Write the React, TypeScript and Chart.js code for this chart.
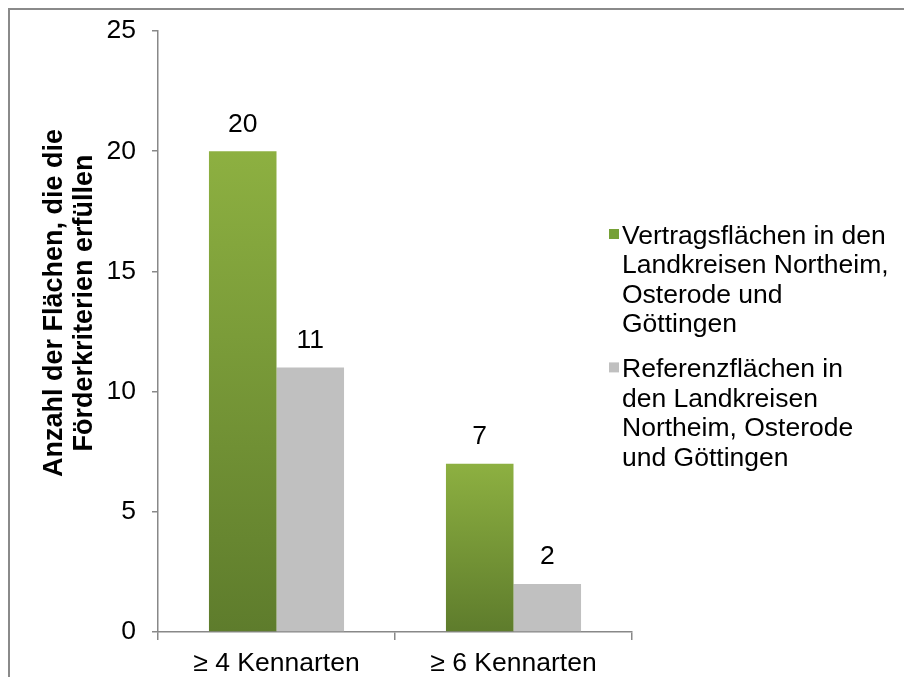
import React, { useEffect, useRef } from 'react';
import { Chart, registerables } from 'chart.js';

Chart.register(...registerables);

// ---- data ----
const categories = ['≥ 4 Kennarten', '≥ 6 Kennarten'];
const vertragsflaechen = [20, 7];
const referenzflaechen = [11, 2];
const seriesNames = [
  'Vertragsflächen in den Landkreisen Northeim, Osterode und Göttingen',
  'Referenzflächen in den Landkreisen Northeim, Osterode und Göttingen',
];
const legendLines = [
  ['Vertragsflächen in den', 'Landkreisen Northeim,', 'Osterode und', 'Göttingen'],
  ['Referenzflächen in', 'den Landkreisen', 'Northeim, Osterode', 'und Göttingen'],
];
const yTitleLines = ['Anzahl der Flächen, die die', 'Förderkriterien erfüllen'];
const yMin = 0;
const yMax = 25;
const yStep = 5;

// ---- styles ----
const FONT = '"Liberation Sans", Arial, sans-serif';
const FS = 26.5;
const GREEN_TOP = '#8db041';
const GREEN_BOTTOM = '#5e7c2c';
const GREEN_SWATCH = '#76a136';
const GREY = '#c0c0c0';
const AXIS = '#888888';

function greenGradient(ctx: any) {
  const chart = ctx.chart;
  if (!chart.chartArea || ctx.type !== 'data') return GREEN_SWATCH;
  const y = chart.scales.y;
  const top = y.getPixelForValue(ctx.raw as number);
  const bot = y.getPixelForValue(0);
  if (!isFinite(top) || !isFinite(bot) || top === bot) return GREEN_SWATCH;
  const g = chart.ctx.createLinearGradient(0, top, 0, bot);
  g.addColorStop(0, GREEN_TOP);
  g.addColorStop(1, GREEN_BOTTOM);
  return g;
}

const decorPlugin = {
  id: 'decor',
  afterDatasetsDraw(chart: any) {
    const ctx = chart.ctx;
    ctx.save();
    ctx.fillStyle = '#000';
    ctx.font = `${FS}px ${FONT}`;
    ctx.textAlign = 'center';
    ctx.textBaseline = 'middle';
    chart.data.datasets.forEach((ds: any, di: number) => {
      const meta = chart.getDatasetMeta(di);
      meta.data.forEach((el: any, i: number) => {
        ctx.fillText(String(ds.data[i]), el.x, el.y - 27);
      });
    });
    ctx.restore();
  },
  afterDraw(chart: any) {
    const ctx = chart.ctx;
    ctx.save();
    // y-axis title
    ctx.fillStyle = '#000';
    ctx.font = `bold 27px ${FONT}`;
    ctx.textAlign = 'center';
    ctx.textBaseline = 'middle';
    const cy = 293;
    yTitleLines.forEach((line, i) => {
      ctx.save();
      ctx.translate(45 + i * 30, cy);
      ctx.rotate(-Math.PI / 2);
      ctx.fillText(line, 0, 0);
      ctx.restore();
    });
    // legend
    const swatches = [GREEN_SWATCH, GREY];
    const lineH = 29.6;
    const entryGap = 15;
    let baseline = 233.5;
    ctx.font = `${FS}px ${FONT}`;
    ctx.textAlign = 'left';
    ctx.textBaseline = 'alphabetic';
    legendLines.forEach((lines, k) => {
      ctx.fillStyle = swatches[k];
      ctx.fillRect(599, baseline - 14.5, 10, 10);
      ctx.fillStyle = '#000';
      lines.forEach((line, j) => {
        ctx.fillText(line, 612, baseline + j * lineH);
      });
      baseline += lines.length * lineH + entryGap;
    });
    ctx.restore();
  },
};

export default function App() {
  const ref = useRef<HTMLCanvasElement>(null);
  useEffect(() => {
    if (!ref.current) return;
    const chart = new Chart(ref.current, {
      type: 'bar',
      data: {
        labels: categories,
        datasets: [
          {
            label: seriesNames[0],
            data: vertragsflaechen,
            backgroundColor: greenGradient,
            borderWidth: 0,
            categoryPercentage: 0.57,
            barPercentage: 1,
          },
          {
            label: seriesNames[1],
            data: referenzflaechen,
            backgroundColor: GREY,
            borderWidth: 0,
            categoryPercentage: 0.57,
            barPercentage: 1,
          },
        ],
      },
      options: {
        animation: false,
        responsive: false,
        devicePixelRatio: 1,
        layout: { padding: { top: 21, right: 272, left: 0, bottom: 0 } },
        plugins: {
          legend: { display: false },
          tooltip: { enabled: false },
          title: { display: false },
        },
        scales: {
          x: {
            grid: {
              display: true,
              drawOnChartArea: false,
              drawTicks: true,
              tickLength: 8,
              color: AXIS,
              lineWidth: 1.5,
              offset: true,
            },
            border: { display: true, color: AXIS, width: 1.5 },
            ticks: { font: { family: FONT, size: FS }, color: '#000', padding: 8 },
            afterFit: (s: any) => {
              s.height = 45;
              s.paddingLeft = 0;
              s.paddingRight = 0;
            },
          },
          y: {
            min: yMin,
            max: yMax,
            grid: {
              display: true,
              drawOnChartArea: false,
              drawTicks: true,
              tickLength: 6,
              color: AXIS,
              lineWidth: 1.5,
            },
            border: { display: true, color: AXIS, width: 1.5 },
            ticks: {
              stepSize: yStep,
              font: { family: FONT, size: FS },
              color: '#000',
              padding: 16,
            },
            afterFit: (s: any) => {
              s.width = 148;
              s.paddingTop = 0;
              s.paddingBottom = 0;
            },
          },
        },
      },
      plugins: [decorPlugin],
    });
    return () => chart.destroy();
  }, []);

  return (
    <div
      style={{
        position: 'fixed',
        left: 8,
        top: 8,
        width: 896,
        height: 669,
        boxSizing: 'border-box',
        borderTop: '2px solid #8a8a8a',
        borderLeft: '2px solid #8a8a8a',
        background: '#fff',
        overflow: 'hidden',
      }}
    >
      <canvas ref={ref} width={894} height={667} style={{ display: 'block' }} />
    </div>
  );
}
